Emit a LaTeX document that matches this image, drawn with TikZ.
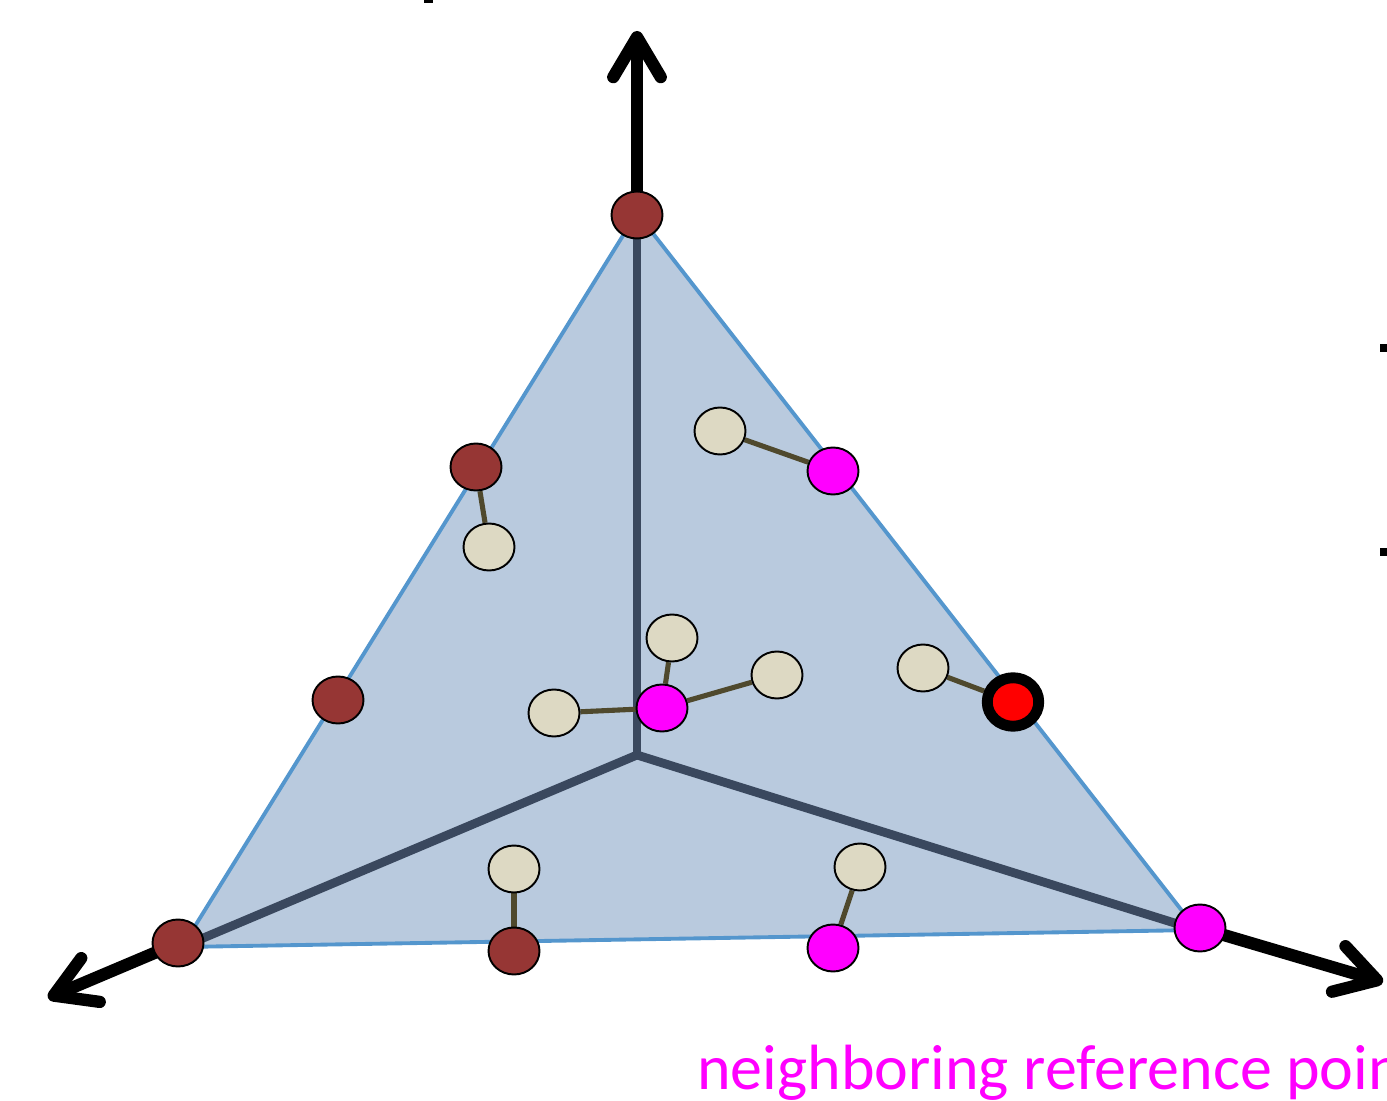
\documentclass[tikz,border=0pt]{standalone}
\usepackage{fontspec}
\setmainfont{Carlito}
\usetikzlibrary{shapes.geometric,arrows.meta}
\definecolor{trifill}{RGB}{185,202,222}
\definecolor{triedge}{RGB}{84,150,205}
\definecolor{innerc}{RGB}{58,72,94}
\definecolor{ptbrown}{RGB}{150,54,52}
\definecolor{ptbeige}{RGB}{221,217,195}
\definecolor{ptmag}{RGB}{255,0,255}
\definecolor{linkc}{RGB}{79,73,45}
\pgfdeclarelayer{trilayer}
\pgfdeclarelayer{linklayer}
\pgfsetlayers{trilayer,linklayer,main}
\begin{document}
\begin{tikzpicture}[x=0.02cm,y=-0.02cm,
  pt/.style={ellipse, draw=black, line width=1.1pt, minimum width=1.02cm, minimum height=0.94cm, inner sep=0pt},
  brn/.style={pt, fill=ptbrown},
  bge/.style={pt, fill=ptbeige},
  mag/.style={pt, fill=ptmag},
  query/.style={ellipse, draw=black, line width=6.2pt, fill=red, minimum width=1.03cm, minimum height=0.97cm, inner sep=0pt},
  link/.style={draw=linkc, line width=2.9pt},
  inner/.style={draw=innerc, line width=5pt},
  axisarrow/.style={draw=black, line width=7pt, line cap=round, -{Straight Barb[length=0.8cm,width=0.95cm,round]}},
  edgemark/.style={fill=black, draw=none}]
\useasboundingbox (0,0) rectangle (1387,1101);
\clip (0,0) rectangle (1387,1101);

% triangle corners and centre
\coordinate (A) at (637,213);
\coordinate (B) at (182,947);
\coordinate (C) at (1197,930);
\coordinate (O) at (637,755);

\begin{pgfonlayer}{trilayer}
  \fill[trifill] (A) -- (B) -- (C) -- cycle;
  \draw[triedge, line width=2.2pt, line join=round] (A) -- (B) -- (C) -- cycle;
  \draw[inner] (A) -- (O);
  \draw[inner] (O) -- (B);
  \draw[inner] (O) -- (C);
\end{pgfonlayer}

% points
\node[brn] (b1) at (637,215) {};
\node[brn] (b2) at (476,467) {};
\node[brn] (b3) at (338,700) {};
\node[brn] (b4) at (178,943) {};
\node[brn] (b5) at (514,951) {};

\node[bge] (e1) at (720,431) {};
\node[bge] (e2) at (489,547) {};
\node[bge] (e3) at (672,638) {};
\node[bge] (e4) at (777,675) {};
\node[bge] (e5) at (554,713) {};
\node[bge] (e6) at (923,668) {};
\node[bge] (e7) at (514,869) {};
\node[bge] (e8) at (860,867) {};

\node[mag] (m1) at (833,471) {};
\node[mag] (m2) at (662,708) {};
\node[mag] (m3) at (1200,928) {};
\node[mag] (m4) at (833,948) {};

\node[query] (q) at (1013,702) {};

% axis arrow ends
\coordinate (topend) at (637,31);
\coordinate (leftend) at (48,998);
\coordinate (rightend) at (1383,982);

\begin{pgfonlayer}{linklayer}
  \draw[link] (e1) -- (m1);
  \draw[link] (b2) -- (e2);
  \draw[link] (e3) -- (m2);
  \draw[link] (e5) -- (m2);
  \draw[link] (e4) -- (m2);
  \draw[link] (e6) -- (q);
  \draw[link] (e7) -- (b5);
  \draw[link] (e8) -- (m4);
  \draw[axisarrow] (b1.center) -- (topend);
  \draw[axisarrow] (b4.center) -- (leftend);
  \draw[axisarrow] (m3.center) -- (rightend);
\end{pgfonlayer}

% cut-off marks at the edges
\fill[edgemark] (424,0) rectangle (433,3);
\fill[edgemark] (1380,344) rectangle (1387,352);
\fill[edgemark] (1380,548) rectangle (1387,556);

\node[anchor=base west, inner sep=0pt, text=ptmag, font=\fontsize{36.4}{40}\selectfont] (lbl) at (697,1089) {neighboring reference points};
\end{tikzpicture}
\end{document}
